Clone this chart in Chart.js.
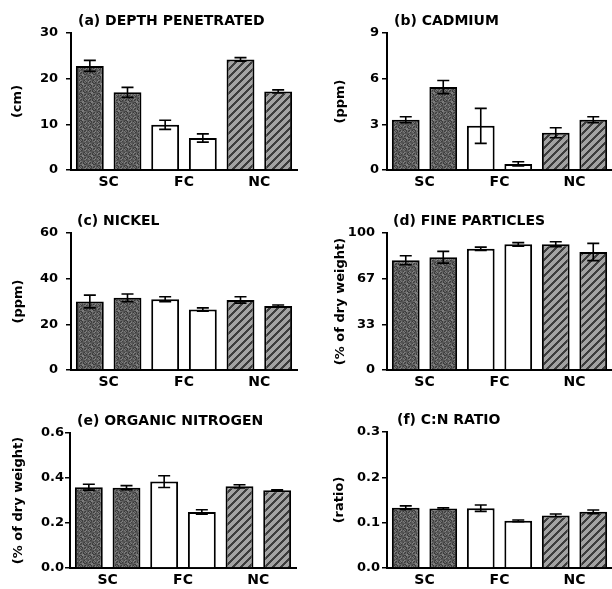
<!DOCTYPE html>
<html><head><meta charset="utf-8">
<script src="https://cdn.jsdelivr.net/npm/chart.js@4.4.0/dist/chart.umd.min.js"></script>
<style>
html,body{margin:0;padding:0;background:#fff;width:612px;height:589px;overflow:hidden;position:relative;}
canvas{position:absolute;}
</style></head><body>
<canvas id="pa"></canvas><canvas id="pb"></canvas>
<canvas id="pc"></canvas><canvas id="pd"></canvas>
<canvas id="pe"></canvas><canvas id="pf"></canvas>
<script>
// ---------- data (bar order: SC1, SC2, FC1, FC2, NC1, NC2) ----------
const categories = ['SC', 'FC', 'NC'];

const depthValues = [22.8, 17.0, 9.9, 7.0, 24.2, 17.2];
const depthErrors = [1.2, 1.1, 1.0, 0.9, 0.4, 0.35];
const depthTicks = [0, 10, 20, 30];
const depthTickLabels = ['0', '10', '20', '30'];

const cadmiumValues = [3.3, 5.45, 2.9, 0.4, 2.45, 3.3];
const cadmiumErrors = [0.2, 0.43, 1.15, 0.14, 0.33, 0.2];
const cadmiumTicks = [0, 3, 6, 9];
const cadmiumTickLabels = ['0', '3', '6', '9'];

const nickelValues = [30.0, 31.6, 31.0, 26.5, 30.7, 28.0];
const nickelErrors = [2.8, 1.7, 1.1, 0.7, 1.4, 0.5];
const nickelTicks = [0, 20, 40, 60];
const nickelTickLabels = ['0', '20', '40', '60'];

const fineValues = [80.1, 82.3, 88.5, 91.7, 91.8, 86.1];
const fineErrors = [3.3, 4.3, 1.2, 1.3, 1.8, 6.3];
const fineTicks = [0, 33.33, 66.67, 100];
const fineTickLabels = ['0', '33', '67', '100'];

const nitrogenValues = [0.359, 0.357, 0.384, 0.249, 0.363, 0.346];
const nitrogenErrors = [0.013, 0.009, 0.026, 0.010, 0.007, 0.002];
const nitrogenTicks = [0, 0.2, 0.4, 0.6];
const nitrogenTickLabels = ['0.0', '0.2', '0.4', '0.6'];

const ratioValues = [0.133, 0.131, 0.132, 0.104, 0.116, 0.124];
const ratioErrors = [0.004, 0.002, 0.007, 0.002, 0.003, 0.004];
const ratioTicks = [0, 0.1, 0.2, 0.3];
const ratioTickLabels = ['0.0', '0.1', '0.2', '0.3'];

// ---------- styles ----------
const FONT = 'DejaVu Sans';

function stipplePattern() {
  const c = document.createElement('canvas'); c.width = 9; c.height = 9;
  const g = c.getContext('2d');
  for (let i = 0; i < 9; i++) for (let j = 0; j < 9; j++) {
    const s = 58 + ((i * 5 + j * 3 + i * j * 7) % 9) * 9;
    g.fillStyle = 'rgb(' + s + ',' + s + ',' + s + ')';
    g.fillRect(i, j, 1, 1);
  }
  return g.createPattern(c, 'repeat');
}
function hatchPattern() {
  const c = document.createElement('canvas'); c.width = 8; c.height = 8;
  const g = c.getContext('2d');
  for (let x = 0; x < 8; x++) for (let y = 0; y < 8; y++) {
    const d = (x + y) % 8;
    g.fillStyle = d < 3 ? '#3c3c3c' : '#a2a2a2';
    g.fillRect(x, y, 1, 1);
  }
  return g.createPattern(c, 'repeat');
}
const fills = [stipplePattern(), '#ffffff', hatchPattern()];

const errorBarPlugin = {
  id: 'errorBars',
  afterDatasetsDraw(chart) {
    const ctx = chart.ctx, ys = chart.scales.y;
    ctx.save();
    ctx.strokeStyle = '#000'; ctx.lineWidth = 1.6;
    chart.data.datasets.forEach((ds, di) => {
      const meta = chart.getDatasetMeta(di);
      meta.data.forEach((bar, j) => {
        const v = ds.data[j], e = ds.errors[j];
        const yt = ys.getPixelForValue(v + e), yb = ys.getPixelForValue(v - e);
        const x = bar.x;
        ctx.beginPath();
        ctx.moveTo(x, yt); ctx.lineTo(x, yb);
        ctx.moveTo(x - 6, yt); ctx.lineTo(x + 6, yt);
        ctx.moveTo(x - 6, yb); ctx.lineTo(x + 6, yb);
        ctx.stroke();
      });
    });
    ctx.restore();
  }
};

const panelTitlePlugin = {
  id: 'panelTitle',
  afterDraw(chart, args, opts) {
    const ctx = chart.ctx;
    ctx.save();
    ctx.font = 'bold 14px "' + FONT + '"';
    ctx.fillStyle = '#000'; ctx.textAlign = 'left'; ctx.textBaseline = 'alphabetic';
    ctx.fillText(opts.text, chart.chartArea.left + opts.dx, chart.chartArea.top - 8);
    ctx.restore();
  }
};

const panels = [
  {id:'pa', title:'(a) DEPTH PENETRATED', yTitle:'(cm)', values:depthValues, errors:depthErrors, ticks:depthTicks, tickLabels:depthTickLabels,
   left:0, top:0, w:306, h:195, axisX:71, right:297, areaTop:33, areaBottom:170, yTitleX:18, titleDx:7, tickPad:8},
  {id:'pb', title:'(b) CADMIUM', yTitle:'(ppm)', values:cadmiumValues, errors:cadmiumErrors, ticks:cadmiumTicks, tickLabels:cadmiumTickLabels,
   left:306, top:0, w:306, h:195, axisX:81, right:306, areaTop:33, areaBottom:170, yTitleX:35, titleDx:7, tickPad:3},
  {id:'pc', title:'(c) NICKEL', yTitle:'(ppm)', values:nickelValues, errors:nickelErrors, ticks:nickelTicks, tickLabels:nickelTickLabels,
   left:0, top:200, w:306, h:195, axisX:71, right:297, areaTop:33, areaBottom:170, yTitleX:18.5, titleDx:6, tickPad:8},
  {id:'pd', title:'(d) FINE PARTICLES', yTitle:'(% of dry weight)', values:fineValues, errors:fineErrors, ticks:fineTicks, tickLabels:fineTickLabels,
   left:306, top:200, w:306, h:195, axisX:81, right:306, areaTop:33, areaBottom:170, yTitleX:35, titleDx:6, tickPad:7},
  {id:'pe', title:'(e) ORGANIC NITROGEN', yTitle:'(% of dry weight)', values:nitrogenValues, errors:nitrogenErrors, ticks:nitrogenTicks, tickLabels:nitrogenTickLabels,
   left:0, top:390, w:306, h:199, axisX:70, right:296, areaTop:43, areaBottom:178, yTitleX:18.5, titleDx:7, tickPad:1},
  {id:'pf', title:'(f) C:N RATIO', yTitle:'(ratio)', values:ratioValues, errors:ratioErrors, ticks:ratioTicks, tickLabels:ratioTickLabels,
   left:306, top:390, w:306, h:199, axisX:81, right:306, areaTop:42, areaBottom:178, yTitleX:34, titleDx:10, tickPad:2}
];

function makeChart(p) {
  const cv = document.getElementById(p.id);
  cv.width = p.w; cv.height = p.h;
  cv.style.left = p.left + 'px'; cv.style.top = p.top + 'px';
  cv.style.width = p.w + 'px'; cv.style.height = p.h + 'px';
  const pick = (arr, k) => arr.filter((v, i) => i % 2 === k);
  const ds = k => ({
    data: pick(p.values, k), errors: pick(p.errors, k),
    backgroundColor: fills, borderColor: '#000', borderWidth: 2,
    categoryPercentage: 1.0, barPercentage: 0.74
  });
  const yMax = p.ticks[p.ticks.length - 1];
  new Chart(cv, {
    type: 'bar',
    data: { labels: categories, datasets: [ds(0), ds(1)] },
    options: {
      responsive: false, animation: false, devicePixelRatio: 1,
      layout: { padding: { left: 0, right: p.w - p.right, top: p.areaTop, bottom: 0 } },
      plugins: { legend: { display: false }, tooltip: { enabled: false }, panelTitle: { text: p.title, dx: p.titleDx } },
      scales: {
        x: {
          grid: { display: false, drawTicks: false },
          border: { display: true, color: '#000', width: 2 },
          ticks: { color: '#000', font: { family: FONT, weight: 'bold', size: 14 }, padding: 4 },
          afterFit: s => { s.height = p.h - p.areaBottom; }
        },
        y: {
          min: 0, max: yMax,
          grid: { drawOnChartArea: false, drawTicks: true, tickLength: 5, color: '#000', lineWidth: 1.5 },
          border: { display: true, color: '#000', width: 2 },
          afterBuildTicks: s => { s.ticks = p.ticks.map(v => ({ value: v })); },
          ticks: {
            color: '#000', font: { family: FONT, weight: 'bold', size: 13 }, padding: p.tickPad,
            callback: (v, i) => p.tickLabels[i]
          },
          title: {
            display: true, text: p.yTitle, color: '#000',
            font: { family: FONT, weight: 'bold', size: 13 },
            padding: { top: p.yTitleX - 7.8, bottom: 0 }
          },
          afterFit: s => { s.width = p.axisX; }
        }
      }
    },
    plugins: [errorBarPlugin, panelTitlePlugin]
  });
}
panels.forEach(makeChart);
</script>
</body></html>
